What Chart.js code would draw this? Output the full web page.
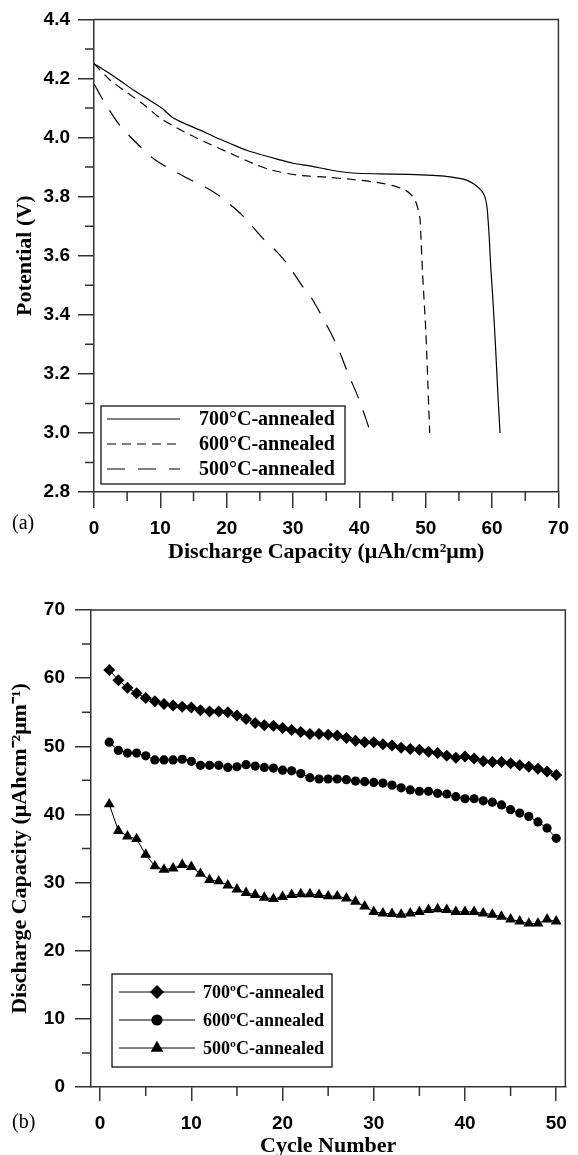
<!DOCTYPE html>
<html>
<head>
<meta charset="utf-8">
<script src="https://cdn.jsdelivr.net/npm/chart.js"></script>
<style>
  html, body { margin: 0; padding: 0; background: #fff; overflow: hidden; }
  .wrap { position: absolute; left: 0; }
  .tag { position: absolute; left: 12px; font: 20px "Liberation Serif", "Times New Roman", serif; color: #000; }
</style>
</head>
<body>
<div class="wrap" style="top:0"><canvas id="dischargeChart" width="578" height="578"></canvas></div>
<div class="wrap" style="top:578px"><canvas id="cycleChart" width="578" height="600"></canvas></div>
<div class="tag" style="top:511px">(a)</div>
<div class="tag" style="top:1110px">(b)</div>
<script>
// (a) discharge curves
const cap700 = [0, 2, 3.9, 6, 8.8, 10.3, 11.8, 13.7, 16, 18.2, 20.5, 23.1, 25.5, 27.6, 30, 32.5, 35, 37, 39, 43, 47.4, 51, 53.3, 55.5, 56.8, 57.7, 58.4, 58.9, 59.2, 59.4, 59.6, 59.8, 60.1, 60.5, 60.9, 61.2];
const volt700 = [4.25, 4.222, 4.193, 4.16, 4.12, 4.098, 4.069, 4.047, 4.025, 4.002, 3.98, 3.956, 3.94, 3.927, 3.913, 3.904, 3.893, 3.885, 3.88, 3.877, 3.875, 3.872, 3.868, 3.86, 3.849, 3.835, 3.82, 3.8, 3.77, 3.72, 3.65, 3.56, 3.46, 3.3, 3.12, 3.0];
const cap600 = [0, 2.4, 4.8, 7.3, 9.8, 12.3, 15.7, 20.7, 24, 26.6, 30.6, 35, 39, 42.4, 44.9, 46.5, 47.4, 48.2, 48.6, 49.1, 49.3, 49.5, 49.7, 50.0, 50.3, 50.6];
const volt600 = [4.25, 4.195, 4.155, 4.115, 4.069, 4.035, 3.996, 3.945, 3.912, 3.891, 3.873, 3.866, 3.858, 3.849, 3.838, 3.826, 3.815, 3.795, 3.776, 3.731, 3.65, 3.55, 3.47, 3.35, 3.18, 3.0];
const cap500 = [0, 1.4, 3.9, 7.3, 9.3, 12.75, 15.2, 17.2, 19.2, 20.7, 22.6, 25.6, 27.6, 29.1, 31.5, 33, 36.5, 38.2, 40, 41.7];
const volt500 = [4.182, 4.126, 4.041, 3.962, 3.923, 3.878, 3.849, 3.827, 3.798, 3.77, 3.731, 3.655, 3.612, 3.573, 3.494, 3.449, 3.302, 3.206, 3.11, 3.0];

// (b) cycle life
const cycles = [1, 2, 3, 4, 5, 6, 7, 8, 9, 10, 11, 12, 13, 14, 15, 16, 17, 18, 19, 20, 21, 22, 23, 24, 25,
                26, 27, 28, 29, 30, 31, 32, 33, 34, 35, 36, 37, 38, 39, 40, 41, 42, 43, 44, 45, 46, 47, 48, 49, 50];
const cyc700 = [61.2, 59.7, 58.6, 57.8, 57.1, 56.6, 56.2, 56.0, 55.8, 55.7, 55.3, 55.1, 55.1, 55.0, 54.5, 54.0, 53.4, 53.1, 53.0, 52.7,
                52.4, 52.1, 51.8, 51.8, 51.7, 51.6, 51.2, 50.8, 50.6, 50.6, 50.3, 50.1, 49.8, 49.6, 49.5, 49.2, 49.0, 48.6, 48.3, 48.5,
                48.2, 47.8, 47.7, 47.7, 47.5, 47.2, 47.0, 46.7, 46.3, 45.8];
const cyc600 = [50.6, 49.4, 49.0, 49.0, 48.6, 48.0, 48.0, 48.0, 48.1, 47.8, 47.2, 47.2, 47.2, 46.9, 47.0, 47.3, 47.1, 46.9, 46.8, 46.5,
                46.4, 46.0, 45.4, 45.2, 45.2, 45.2, 45.1, 44.9, 44.8, 44.7, 44.6, 44.3, 43.9, 43.6, 43.4, 43.4, 43.1, 43.0, 42.6, 42.3,
                42.3, 42.0, 41.8, 41.4, 40.7, 40.2, 39.7, 38.9, 38.0, 36.5];
const cyc500 = [41.5, 37.6, 36.8, 36.4, 34.1, 32.4, 31.9, 32.1, 32.6, 32.3, 31.3, 30.4, 30.2, 29.6, 29.0, 28.5, 28.2, 27.8, 27.6, 27.9,
                28.2, 28.3, 28.3, 28.2, 28.0, 28.0, 27.7, 27.2, 26.5, 25.7, 25.5, 25.4, 25.3, 25.5, 25.7, 26.0, 26.1, 26.0, 25.7, 25.7,
                25.7, 25.5, 25.3, 25.0, 24.6, 24.3, 24.0, 24.0, 24.6, 24.3];

const axisColor = '#333';
const tickFont = { family: '"Liberation Sans", Arial, sans-serif', size: 19, weight: 'bold' };
const titleFont = { family: '"Liberation Serif", "Times New Roman", serif', size: 22, weight: 'bold' };

function toPoints(xs, ys) {
    return xs.map((x, i) => ({ x: x, y: ys[i] }));
}

function drawMarker(ctx, style, r, x, y) {
    ctx.beginPath();
    if (style === 'rectRot') {
        ctx.moveTo(x, y - r); ctx.lineTo(x + r, y); ctx.lineTo(x, y + r); ctx.lineTo(x - r, y);
    } else if (style === 'triangle') {
        ctx.moveTo(x, y - r); ctx.lineTo(x + r * 0.866, y + r / 2); ctx.lineTo(x - r * 0.866, y + r / 2);
    } else {
        ctx.arc(x, y, r, 0, Math.PI * 2);
    }
    ctx.closePath();
    ctx.fill();
}

// top/right frame, short minor ticks and the boxed legend inside the plot
const framePlugin = {
    id: 'frame',
    afterDraw(chart, args, opts) {
        const { ctx, chartArea: a } = chart;
        ctx.save();
        ctx.strokeStyle = axisColor;
        ctx.lineWidth = 1.5;
        ctx.beginPath();
        ctx.moveTo(a.left, a.top);
        ctx.lineTo(a.right, a.top);
        ctx.lineTo(a.right, a.bottom);
        ctx.stroke();

        // minor ticks = ticks without a label
        const xs = chart.scales.x, ys = chart.scales.y;
        ctx.beginPath();
        xs.ticks.forEach(t => {
            if (t.label !== '') return;
            const px = xs.getPixelForValue(t.value);
            ctx.moveTo(px, a.bottom);
            ctx.lineTo(px, a.bottom + 9);
        });
        ys.ticks.forEach(t => {
            if (t.label !== '') return;
            const py = ys.getPixelForValue(t.value);
            ctx.moveTo(a.left, py);
            ctx.lineTo(a.left - 9, py);
        });
        ctx.stroke();

        const lg = opts.box;
        if (lg) {
            ctx.fillStyle = '#fff';
            ctx.fillRect(lg.x, lg.y, lg.w, lg.h);
            ctx.strokeStyle = '#000';
            ctx.lineWidth = 1.2;
            ctx.strokeRect(lg.x, lg.y, lg.w, lg.h);
            ctx.font = 'bold ' + lg.fontSize + 'px "Liberation Serif", "Times New Roman", serif';
            ctx.textBaseline = 'middle';
            chart.data.datasets.forEach((ds, i) => {
                const y = lg.row0 + i * lg.rowGap;
                ctx.strokeStyle = '#000';
                ctx.lineWidth = ds.borderWidth;
                ctx.setLineDash(ds.borderDash || []);
                ctx.beginPath();
                ctx.moveTo(lg.line0, y);
                ctx.lineTo(lg.line1, y);
                ctx.stroke();
                ctx.setLineDash([]);
                if (ds.pointRadius > 0) {
                    ctx.fillStyle = '#000';
                    drawMarker(ctx, ds.pointStyle, ds.pointRadius + 1, (lg.line0 + lg.line1) / 2, y);
                }
                ctx.fillStyle = '#000';
                ctx.fillText(ds.label, lg.textX, y + 1);
            });
        }
        ctx.restore();
    }
};

function axisGrid(len) {
    return {
        drawOnChartArea: false,
        color: axisColor,
        lineWidth: 1.5,
        tickLength: len,
        tickColor: c => (c.tick && c.tick.label === '') ? 'rgba(0,0,0,0)' : axisColor
    };
}

// Discharge chart
const ctxDis = document.getElementById('dischargeChart').getContext('2d');
const dischargeChart = new Chart(ctxDis, {
    type: 'scatter',
    data: {
        datasets: [
            { label: '700°C-annealed', data: toPoints(cap700, volt700), showLine: true, borderColor: '#000', borderWidth: 1.2, pointRadius: 0, tension: 0.3 },
            { label: '600°C-annealed', data: toPoints(cap600, volt600), showLine: true, borderColor: '#000', borderWidth: 1.2, borderDash: [9, 6], pointRadius: 0, tension: 0.3 },
            { label: '500°C-annealed', data: toPoints(cap500, volt500), showLine: true, borderColor: '#000', borderWidth: 1.2, borderDash: [18, 13], pointRadius: 0, tension: 0.3 }
        ]
    },
    options: {
        responsive: false,
        animation: false,
        layout: { padding: { top: 19, right: 12, left: 0, bottom: 0 } },
        scales: {
            x: {
                type: 'linear', min: 0, max: 70,
                afterFit: s => { s.height = 86; },
                border: { color: axisColor, width: 1.5 },
                grid: axisGrid(16),
                ticks: { stepSize: 5, autoSkip: false, maxRotation: 0, padding: 9, font: tickFont, color: '#000',
                         callback: v => v % 10 === 0 ? v : '' },
                title: { display: true, text: 'Discharge Capacity (μAh/cm²μm)', font: titleFont, color: '#000', padding: { top: 0, bottom: 12 } }
            },
            y: {
                min: 2.8, max: 4.4,
                afterFit: s => { s.width = 94; },
                border: { color: axisColor, width: 1.5 },
                grid: axisGrid(16),
                ticks: { stepSize: 0.1, autoSkip: false, padding: 8, font: tickFont, color: '#000',
                         callback: v => Math.round(v * 10) % 2 === 0 ? v.toFixed(1) : '' },
                title: { display: true, text: 'Potential (V)', font: titleFont, color: '#000', padding: { top: 12, bottom: 0 } }
            }
        },
        plugins: {
            legend: { display: false },
            tooltip: { enabled: false },
            frame: { box: { x: 101, y: 406, w: 244, h: 78, row0: 419, rowGap: 25, line0: 107, line1: 180, textX: 199, fontSize: 20 } }
        }
    },
    plugins: [framePlugin]
});

// Cycle chart
const ctxCyc = document.getElementById('cycleChart').getContext('2d');
const cycleChart = new Chart(ctxCyc, {
    type: 'scatter',
    data: {
        datasets: [
            { label: '700ºC-annealed', data: toPoints(cycles, cyc700), showLine: true, borderColor: '#000', borderWidth: 1,
              pointStyle: 'rectRot', pointRadius: 6, pointBackgroundColor: '#000', pointBorderWidth: 0 },
            { label: '600ºC-annealed', data: toPoints(cycles, cyc600), showLine: true, borderColor: '#000', borderWidth: 1,
              pointStyle: 'circle', pointRadius: 4.6, pointBackgroundColor: '#000', pointBorderWidth: 0 },
            { label: '500ºC-annealed', data: toPoints(cycles, cyc500), showLine: true, borderColor: '#000', borderWidth: 1,
              pointStyle: 'triangle', pointRadius: 6.3, pointBackgroundColor: '#000', pointBorderWidth: 0 }
        ]
    },
    options: {
        responsive: false,
        animation: false,
        layout: { padding: { top: 32, right: 12, left: 0, bottom: 0 } },
        scales: {
            x: {
                type: 'linear', min: -1, max: 51,
                afterFit: s => { s.height = 91; },
                border: { color: axisColor, width: 1.5 },
                grid: axisGrid(14),
                ticks: { stepSize: 5, includeBounds: false, autoSkip: false, maxRotation: 0, padding: 11, font: tickFont, color: '#000',
                         callback: v => v % 10 === 0 ? v : '' },
                title: { display: true, text: 'Cycle Number', font: titleFont, color: '#000', padding: { top: 0, bottom: 18 } }
            },
            y: {
                min: 0, max: 70,
                afterFit: s => { s.width = 91; },
                border: { color: axisColor, width: 1.5 },
                grid: axisGrid(16),
                ticks: { stepSize: 5, autoSkip: false, padding: 10, font: tickFont, color: '#000',
                         callback: v => v % 10 === 0 ? v : '' },
                title: { display: true, text: 'Discharge Capacity (μAhcm⁻²μm⁻¹)', font: titleFont, color: '#000', padding: { top: 7, bottom: 0 } }
            }
        },
        plugins: {
            legend: { display: false },
            tooltip: { enabled: false },
            frame: { box: { x: 112, y: 396, w: 220, h: 93, row0: 414, rowGap: 28, line0: 119, line1: 195, textX: 203, fontSize: 18 } }
        }
    },
    plugins: [framePlugin]
});
</script>
</body>
</html>
